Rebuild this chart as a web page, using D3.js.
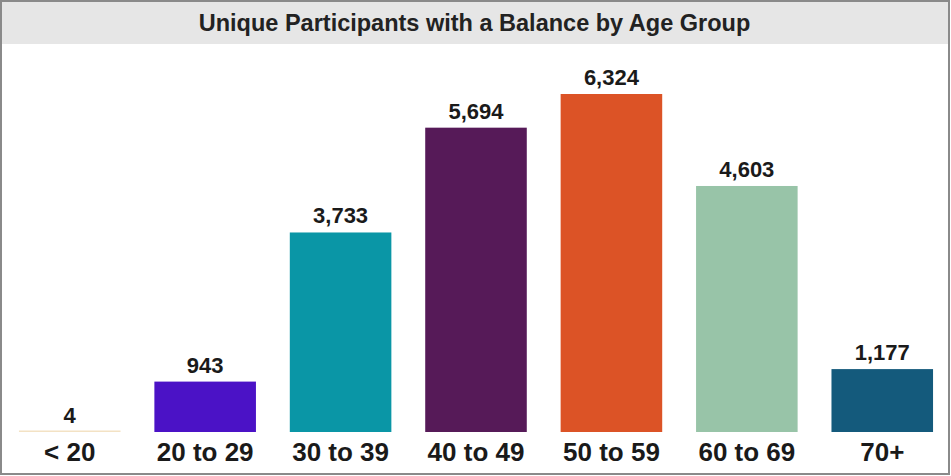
<!DOCTYPE html>
<html><head><meta charset="utf-8">
<script src="https://cdn.jsdelivr.net/npm/d3@7"></script>
<style>body{margin:0;background:#fff}svg{display:block}</style>
</head><body>
<svg id="c" width="951" height="476"></svg>
<script>
const categories = ["< 20","20 to 29","30 to 39","40 to 49","50 to 59","60 to 69","70+"];
const values = [4, 943, 3733, 5694, 6324, 4603, 1177];
const colors = ["#f3e2c4","#4b12c6","#0a96a6","#561a58","#dc5326","#98c4a8","#145a7c"];
const title = "Unique Participants with a Balance by Age Group";

const W = 951, H = 476;
const svg = d3.select("#c");
const font = "'Liberation Sans', Arial, sans-serif";

// frame
svg.append("rect").attr("x",1).attr("y",1).attr("width",W-3).attr("height",H-3)
  .attr("fill","#fff").attr("stroke","#8a8a8a").attr("stroke-width",2);
// title bar
svg.append("rect").attr("x",2).attr("y",2).attr("width",W-5).attr("height",42).attr("fill","#e6e6e6");
svg.append("text").attr("x",W/2 - 1).attr("y",31).attr("text-anchor","middle")
  .attr("font-family",font).attr("font-weight","bold").attr("font-size",23.5).attr("fill","#222")
  .text(title);

const x = d3.scaleBand().domain(categories).range([0,952]).paddingInner(0.25).paddingOuter(0.14);
const y = d3.scaleLinear().domain([0,6324]).range([432,94]);

const g = svg.append("g");
g.selectAll("rect.bar").data(values).join("rect").attr("class","bar")
  .attr("x",(d,i)=>x(categories[i])).attr("width",x.bandwidth())
  .attr("y",d=>Math.min(y(d), 430.5)).attr("height",d=>Math.max(432-y(d),1.5))
  .attr("fill",(d,i)=>colors[i]);

const fmt = d3.format(",");
g.selectAll("text.val").data(values).join("text").attr("class","val")
  .attr("x",(d,i)=>x(categories[i])+x.bandwidth()/2).attr("y",d=>y(d)-9)
  .attr("text-anchor","middle").attr("font-family",font).attr("font-weight","bold")
  .attr("font-size",22).attr("fill","#1a1a1a").text(d=>fmt(d));

const ax = svg.append("g").attr("transform","translate(0,432)")
  .call(d3.axisBottom(x).tickSize(0).tickPadding(0));
ax.select(".domain").remove();
ax.selectAll("text").attr("font-family",font).attr("font-weight","bold")
  .attr("font-size",26).attr("fill","#1a1a1a").attr("y",29).attr("dy",null);
</script>
</body></html>
